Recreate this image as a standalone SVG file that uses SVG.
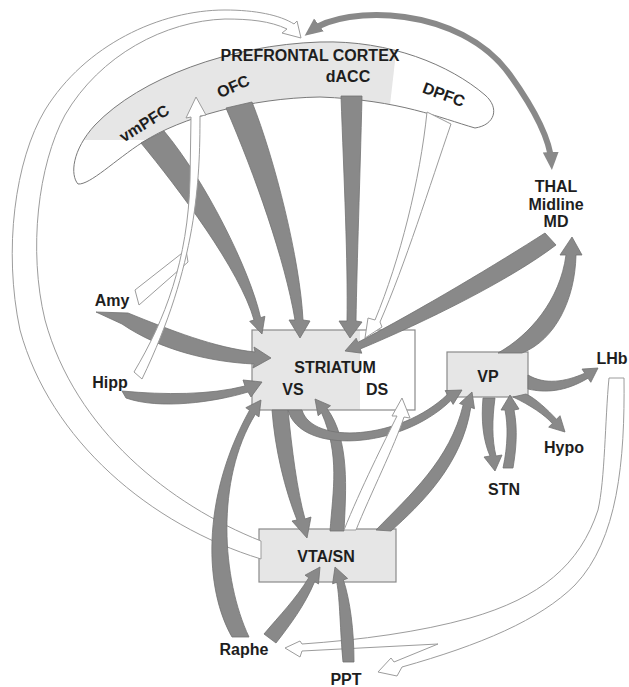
<svg xmlns="http://www.w3.org/2000/svg" width="629" height="687" viewBox="0 0 629 687">
<style>
.lbl{font-family:"Liberation Sans",Arial,Helvetica,sans-serif;font-weight:bold;font-size:16px;fill:#1e1e1e;text-anchor:middle}
.g{fill:#898989;stroke:#727272;stroke-width:0.8;stroke-linejoin:round}
.w{fill:#ffffff;stroke:#9c9c9c;stroke-width:1;stroke-linejoin:miter}
.box{stroke:#8a8a8a;stroke-width:1.2}
.gl{fill:#e6e6e6}
</style>
<defs>
<path id="band" d="M78,184 C70,175 72,150 95,125 C140,78 230,45 320,42 C390,40 450,65 485,95 C500,108 495,125 475,128 C440,118 400,100 320,97 C250,98 180,118 143,142 C115,160 90,185 78,184 Z"/>
<clipPath id="bandclip"><use href="#band"/></clipPath>
<marker id="gh" markerUnits="userSpaceOnUse" markerWidth="18" markerHeight="18" viewBox="0 0 18 18" refX="10" refY="9" orient="auto-start-reverse"><path d="M0,1 L18,9 L0,17 Z" fill="#898989"/></marker>
</defs>
<rect width="629" height="687" fill="#ffffff"/>

<g id="nodes">
<g id="pfc">
<use href="#band" fill="#ffffff"/>
<polygon points="0,0 402,0 386,140 0,140" class="gl" clip-path="url(#bandclip)"/>
<use href="#band" fill="none" stroke="#7a7a7a" stroke-width="1"/>
<text class="lbl" x="310" y="61">PREFRONTAL CORTEX</text>
<text class="lbl" x="348" y="82">dACC</text>
<text class="lbl" transform="translate(233,86) rotate(-24)" x="0" y="6">OFC</text>
<text class="lbl" transform="translate(144,123) rotate(-32)" x="0" y="6">vmPFC</text>
<text class="lbl" transform="translate(444,94) rotate(20)" x="0" y="6">DPFC</text>
</g>
<g id="striatum">
<rect x="252" y="330" width="163" height="80" fill="#ffffff"/>
<rect x="252" y="330" width="108" height="80" class="gl"/>
<rect x="252" y="330" width="163" height="80" fill="none" class="box"/>
<text class="lbl" x="335" y="373">STRIATUM</text>
<text class="lbl" x="293" y="395">VS</text>
<text class="lbl" x="377" y="395">DS</text>
</g>
<g id="vp">
<rect x="447" y="352" width="81" height="45" class="gl box"/>
<text class="lbl" x="488" y="382">VP</text>
</g>
<g id="vta">
<rect x="259" y="529" width="137" height="53" class="gl box"/>
<text class="lbl" x="326" y="562">VTA/SN</text>
</g>
<g id="thal">
<text class="lbl" x="556" y="192">THAL</text>
<text class="lbl" x="556" y="210">Midline</text>
<text class="lbl" x="556" y="227">MD</text>
</g>
<g id="amy"><text class="lbl" x="112" y="306">Amy</text></g>
<g id="hipp"><text class="lbl" x="110" y="388">Hipp</text></g>
<g id="lhb"><text class="lbl" x="612" y="364">LHb</text></g>
<g id="hypo"><text class="lbl" x="564" y="453">Hypo</text></g>
<g id="stn"><text class="lbl" x="504" y="495">STN</text></g>
<g id="raphe"><text class="lbl" x="244" y="655">Raphe</text></g>
<g id="ppt"><text class="lbl" x="346" y="685">PPT</text></g>
</g>

<g id="connectors">
<!-- VTA/SN -> PFC big white arc -->
<path class="w" d="M261,559 C150,525 50,440 20,330 C3,250 15,160 45,110 C85,45 160,10 225,10 C255,10 280,15 294,24 L297,21 L301,38 L282,33 L287,29 C270,21 250,19 225,19 C165,21 100,55 65,115 C38,165 28,250 45,320 C75,430 170,505 261,541 Z"/>
<!-- LHb -> PPT / Raphe white -->
<path class="w" d="M609,378 L624,378 C625,460 618,540 575,585 C540,620 480,645 402,667 L397,676 L378,672 L391,658 L394,662 L438,644 L302,651 L300,657 L285,648 L300,641 L302,644 C360,640 420,632 470,618 C540,598 580,565 598,510 C605,480 605,420 609,378 Z"/>
<!-- PFC -> striatum -->
<path class="g" d="M141,143 C178,188 240,270 254,320 L249.7,321.3 L262,334 L264.9,316.3 L260.6,317.7 C250,270 205,180 164,131 Z"/>
<path class="g" d="M226,108 C255,175 285,260 295,320 L289,320 L300,338 L310,321 L303,320 C300,260 275,160 252,102 Z"/>
<path class="g" d="M341,96 C344,180 348,260 347,321 L339,321 L350,338 L362,322 L356,321 C357,260 360,180 362,96 Z"/>
<!-- THAL -> striatum -->
<path class="g" d="M545,233 C500,262 420,310 357.8,342.4 L356.2,338.2 L345,351 L361.8,353.2 L360.2,349 C425,322 510,280 556,245 Z"/>
<!-- DPFC -> DS white -->
<path class="w" d="M427,112 C420,180 400,260 375,320 L368,318 L365,338 L382,327 L380,322 C405,265 430,185 451,124 Z"/>
<!-- Amy, Hipp -> striatum -->
<path class="g" d="M96,312 L128,313 C170,330 215,348 255,352 L254,347 L271,358 L253,368 L254,364 C210,362 160,350 122,324 Z"/>
<path class="g" d="M122,391 C165,395 210,395 245,386 L243,380 L262,382 L251,397 L248,392 C215,402 160,410 126,398 Z"/>
<!-- Amy, Hipp -> vmPFC white -->
<path class="w" d="M135,290 L139,305 L188,262 L186,250 Z"/>
<path class="w" d="M134,372 C165,320 188,260 190,180 L191,117 L186,118 L196,97 L206,115 L200,116 C200,180 197,265 142,379 Z"/>
<!-- PFC <-> THAL -->
<path d="M311,31 C345,5 460,5 510,75 C535,110 550,140 551.4,162" fill="none" stroke="#898989" stroke-width="6" marker-start="url(#gh)" marker-end="url(#gh)"/>
<!-- VP -> THAL -->
<path class="g" d="M498,353 C530,335 560,300 566,255 L560,255 L572,237 L582,255 L576,255 C575,300 555,340 522,353 Z"/>
<!-- striatum <-> VTA -->
<path class="g" d="M272,410 C275,450 285,490 297,520 L292,521 L307,538 L311,517 L305,519 C297,490 292,450 288,410 Z"/>
<path class="g" d="M330,531 C333,490 340,455 321.6,412.9 L318.1,415.7 L315,399 L330.5,405.7 L327,408.5 C350,440 346,490 344,531 Z"/>
<!-- striatum -> VP -->
<path class="g" d="M288,410 C300,455 400,450 450.9,400.5 L453.1,404.4 L462,390 L445.1,390.6 L447.4,394.5 C400,440 312,445 302,410 Z"/>
<!-- VTA -> VP -->
<path class="g" d="M376,530 C410,495 450,460 463.2,404.8 L459.5,403.5 L472,392 L474.5,408.7 L470.8,407.4 C462,465 420,505 391,531 Z"/>
<!-- VTA -> DS white -->
<path class="w" d="M344,530 C360,490 385,440 397,416 L392,416 L402,398 L410,418 L404,417 C395,445 370,495 356,530 Z"/>
<!-- Raphe, PPT -->
<path class="g" d="M232,637 C205,590 200,500 249.5,410.3 L245.8,407.7 L261,400 L259,416.9 L255.3,414.3 C215,480 222,580 249,637 Z"/>
<path class="g" d="M264,634 C280,615 295,600 308.8,577.7 L305,575.2 L320,567 L318.5,584 L314.7,581.5 C305,605 290,625 276,643 Z"/>
<path class="g" d="M343,662 C340,630 340,600 336.8,582.3 L332.6,583.8 L335,567 L347.6,578.4 L343.4,579.9 C350,600 354,630 354,662 Z"/>
<!-- VP outputs -->
<path class="g" d="M528,375 C545,385 565,382 584.8,373.2 L582,369.1 L598,368 L590.8,382.3 L588,378.2 C565,392 545,393 528,389 Z"/>
<path class="g" d="M513,397 C530,405 545,415 552.3,423.5 L548.7,427.1 L565,432 L560,415.7 L556.5,419.3 C548,410 535,398 526,394 Z"/>
<path class="g" d="M483,398 C481,420 483,440 490,456 L484,457 L495,471 L502,455 L496,456 C492,440 492,420 495,398 Z"/>
<path class="g" d="M503,468 C508,445 508,425 505,410 L501,410 L510,395 L519,409 L514,410 C518,430 516,450 513,468 Z"/>
</g>
</svg>
